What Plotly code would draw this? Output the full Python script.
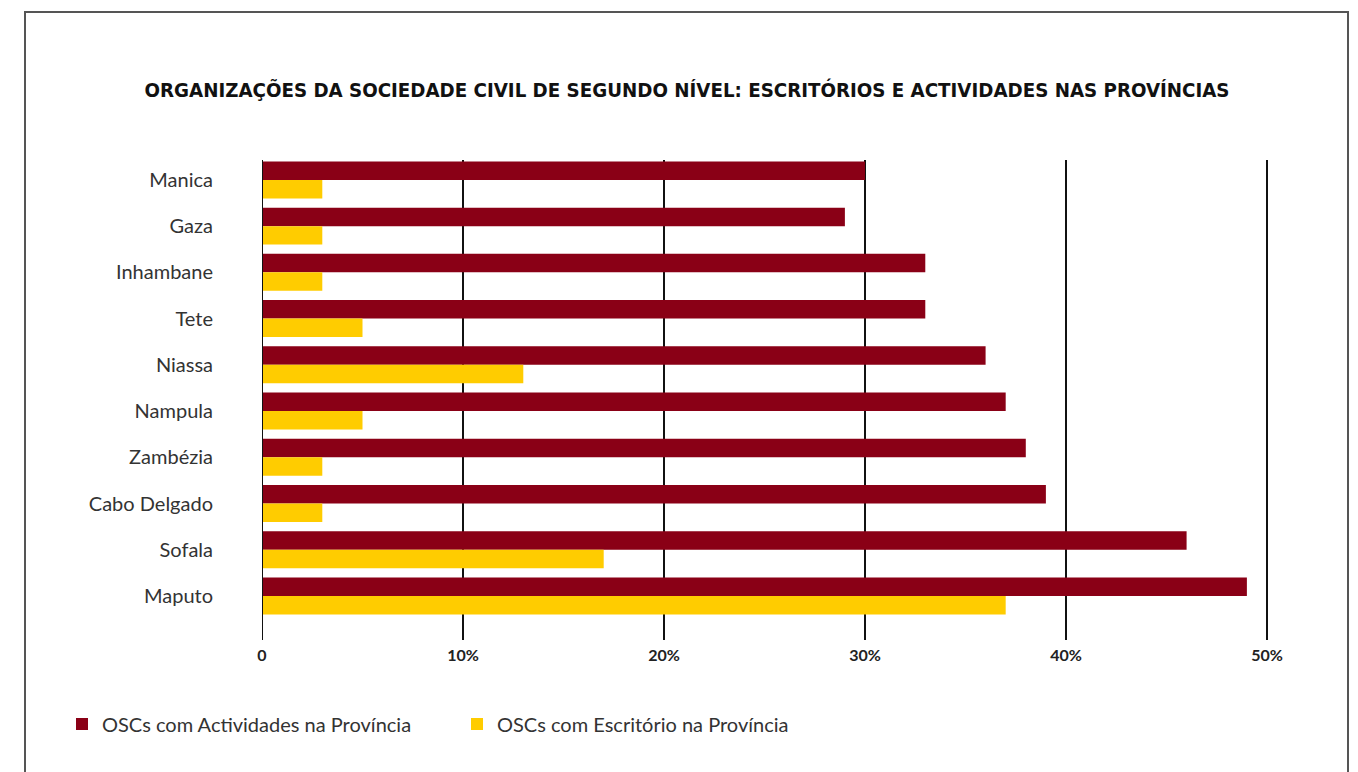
import plotly.graph_objects as go

provinces = ["Manica", "Gaza", "Inhambane", "Tete", "Niassa", "Nampula",
             "Zambézia", "Cabo Delgado", "Sofala", "Maputo"]
atividades = [30, 29, 33, 33, 36, 37, 38, 39, 46, 49]
escritorio = [3, 3, 3, 5, 13, 5, 3, 3, 17, 37]
tick_vals = [0, 10, 20, 30, 40, 50]
tick_text = ["0", "10%", "20%", "30%", "40%", "50%"]

OFF = 8  # page body margin
W, H = 1358, 772
L = 262 - OFF
T = 160 - OFF
XMAX = 50.1
pw = round(20.1 * XMAX)
ph = 480
R = W - L - pw
B = H - T - ph

def px_x(x):
    return (x - OFF - L) / pw

def px_y(y):
    return (T + ph - (y - OFF)) / ph

fig = go.Figure()
fig.add_trace(go.Bar(y=provinces, x=atividades, orientation="h",
                     name="OSCs com Actividades na Província",
                     marker=dict(color="#8A0016", line=dict(width=0))))
fig.add_trace(go.Bar(y=provinces, x=escritorio, orientation="h",
                     name="OSCs com Escritório na Província",
                     marker=dict(color="#FFCC00", line=dict(width=0))))

fig.update_layout(
    width=W, height=H,
    margin=dict(l=L, r=R, t=T, b=B),
    plot_bgcolor="white", paper_bgcolor="white",
    barmode="group", bargap=0.2, bargroupgap=0,
    title=dict(text="<b>ORGANIZAÇÕES DA SOCIEDADE CIVIL DE SEGUNDO NÍVEL: ESCRITÓRIOS E ACTIVIDADES NAS PROVÍNCIAS</b>",
               font=dict(family="DejaVu Sans Condensed", size=20.3, color="#111"),
               x=(687 - OFF) / W, xref="container", xanchor="center",
               y=1 - (90 - OFF) / H, yref="container", yanchor="middle"),
    xaxis=dict(range=[0, XMAX], tickvals=tick_vals, ticktext=tick_text,
               showgrid=True, gridcolor="#111", gridwidth=2,
               zeroline=False, showline=False, ticks="", ticklabelstandoff=4,
               tickfont=dict(family="Lato", size=16, color="#222", weight="bold")),
    yaxis=dict(categoryorder="array", categoryarray=provinces,
               range=[9.95, -0.43], showgrid=False, zeroline=False,
               showline=False, ticks="", ticklabelstandoff=48,
               tickfont=dict(family="Lato", size=20, color="#333")),
    legend=dict(orientation="h", x=px_x(62), y=px_y(724), xanchor="left", yanchor="middle",
                font=dict(family="Lato", size=20, color="#333"),
                entrywidth=350, entrywidthmode="pixels", traceorder="normal"),
    shapes=[dict(type="rect", xref="paper", yref="paper",
                 x0=px_x(25), x1=px_x(1348), y0=px_y(12), y1=px_y(800),
                 line=dict(color="#555", width=2), fillcolor="rgba(0,0,0,0)", layer="below"),
            dict(type="line", xref="x", yref="paper", x0=0, x1=0, y0=0, y1=1,
                 line=dict(color="#111", width=2), layer="above")],
)

fig.write_html("out.html")
